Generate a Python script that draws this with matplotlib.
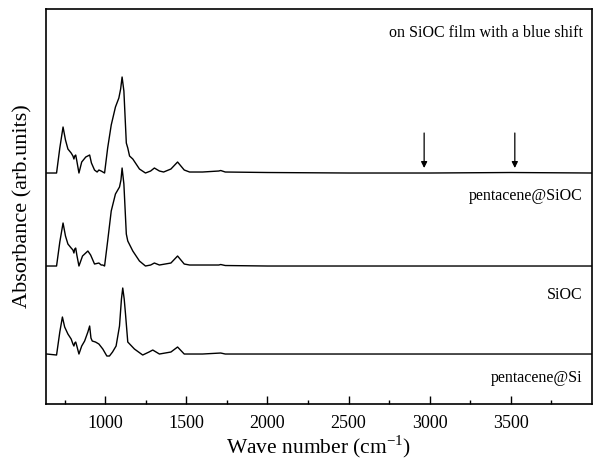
import numpy as np
import matplotlib
matplotlib.use("Agg")
from matplotlib import pyplot as plt

plt.rcParams['font.family'] = ['Liberation Serif', 'DejaVu Serif']
plt.rcParams['mathtext.fontset'] = 'custom'
plt.rcParams['mathtext.rm'] = 'Liberation Serif'

# wave numbers (cm^-1) and absorbance (relative to each baseline)
wn_top = [640, 700, 720, 740, 755, 770, 790, 801, 807, 812, 818, 825, 838, 855, 880, 904,
          915, 934, 950, 961, 975, 996, 1015, 1037, 1063, 1084, 1095, 1104, 1115, 1130,
          1139, 1150, 1170, 1211, 1248, 1280, 1303, 1334, 1360, 1405, 1446, 1487, 1520,
          1600, 1700, 1712, 1740, 2000, 2500, 3000, 3500, 4000]
ab_top = [0.0, 0.0, 0.25, 0.46, 0.33, 0.24, 0.20, 0.17, 0.14, 0.17, 0.18, 0.12, 0.0, 0.11,
          0.16, 0.18, 0.10, 0.03, 0.01, 0.03, 0.02, 0.0, 0.25, 0.48, 0.66, 0.75, 0.84, 0.96,
          0.82, 0.30, 0.25, 0.17, 0.14, 0.04, 0.0, 0.02, 0.05, 0.02, 0.01, 0.04, 0.11, 0.03,
          0.01, 0.01, 0.02, 0.025, 0.01, 0.005, 0.0, 0.0, 0.005, 0.0]

wn_mid = [640, 700, 720, 740, 755, 770, 790, 801, 807, 812, 818, 825, 838, 860, 893, 910,
          934, 961, 975, 985, 996, 1015, 1037, 1063, 1088, 1097, 1104, 1115, 1130, 1139,
          1170, 1211, 1248, 1280, 1303, 1334, 1405, 1446, 1487, 1520, 1700, 1712, 1740,
          2000, 3000, 4000]
ab_mid = [0.0, 0.0, 0.24, 0.43, 0.30, 0.22, 0.18, 0.16, 0.13, 0.17, 0.18, 0.11, 0.0, 0.10,
          0.15, 0.11, 0.02, 0.03, 0.01, 0.01, 0.0, 0.25, 0.55, 0.72, 0.79, 0.86, 0.98,
          0.82, 0.32, 0.25, 0.15, 0.05, 0.0, 0.01, 0.03, 0.01, 0.03, 0.10, 0.02, 0.01,
          0.01, 0.015, 0.005, 0.0, 0.0, 0.0]

wn_bot = [640, 700, 720, 736, 750, 770, 790, 801, 807, 812, 818, 825, 838, 855, 873, 893,
          904, 912, 920, 940, 961, 985, 1010, 1026, 1045, 1067, 1088, 1100, 1108, 1117,
          1125, 1139, 1180, 1231, 1270, 1293, 1334, 1405, 1446, 1487, 1600, 1712, 1740,
          2000, 3000, 4000]
ab_bot = [0.0, -0.01, 0.22, 0.37, 0.27, 0.20, 0.15, 0.10, 0.08, 0.11, 0.12, 0.08, 0.0, 0.08,
          0.13, 0.22, 0.28, 0.16, 0.13, 0.12, 0.10, 0.05, -0.02, -0.02, 0.02, 0.08, 0.28,
          0.55, 0.66, 0.55, 0.40, 0.12, 0.05, -0.01, 0.02, 0.04, 0.0, 0.02, 0.07, 0.0,
          0.0, 0.01, 0.0, 0.0, 0.0, 0.0]

offsets = [2.31, 1.38, 0.50]
labels = ["pentacene@SiOC", "SiOC", "pentacene@Si"]
label_y = [2.08, 1.09, 0.26]
arrow_x = [2966, 3525]

fig = plt.figure(figsize=(5.93, 4.62), dpi=100)
ax = fig.add_axes([0.0776, 0.1255, 0.9205, 0.855])

for wn, ab, off in zip([wn_top, wn_mid, wn_bot], [ab_top, ab_mid, ab_bot], offsets):
    ax.plot(wn, np.array(ab) + off, color="black", lw=1.0)

for lab, y in zip(labels, label_y):
    ax.text(3944, y, lab, ha="right", va="center", fontsize=11.5)
ax.text(3944, 3.71, "on SiOC film with a blue shift", ha="right", va="center", fontsize=11.5)

for x in arrow_x:
    ax.annotate("", xy=(x, 2.36), xytext=(x, 2.71),
                arrowprops=dict(arrowstyle="-|>", color="black", lw=0.9,
                                mutation_scale=9, shrinkA=0, shrinkB=0))

ax.set_xlim(635, 4000)
ax.set_ylim(0, 3.95)
ax.set_xticks([1000, 1500, 2000, 2500, 3000, 3500])
ax.set_xticks(np.arange(750, 4000, 500), minor=True)
ax.set_yticks([])
ax.tick_params(axis="x", which="major", direction="in", length=6, width=1, labelsize=13, pad=8)
ax.tick_params(axis="x", which="minor", direction="in", length=3, width=1)
for sp in ax.spines.values():
    sp.set_linewidth(1.2)

ax.set_xlabel("Wave number (cm$^{\\mathregular{-1}}$)", fontsize=15.5, labelpad=1)
ax.set_ylabel("Absorbance (arb.units)", fontsize=16, labelpad=10)

fig.savefig("out.png", dpi=100)
